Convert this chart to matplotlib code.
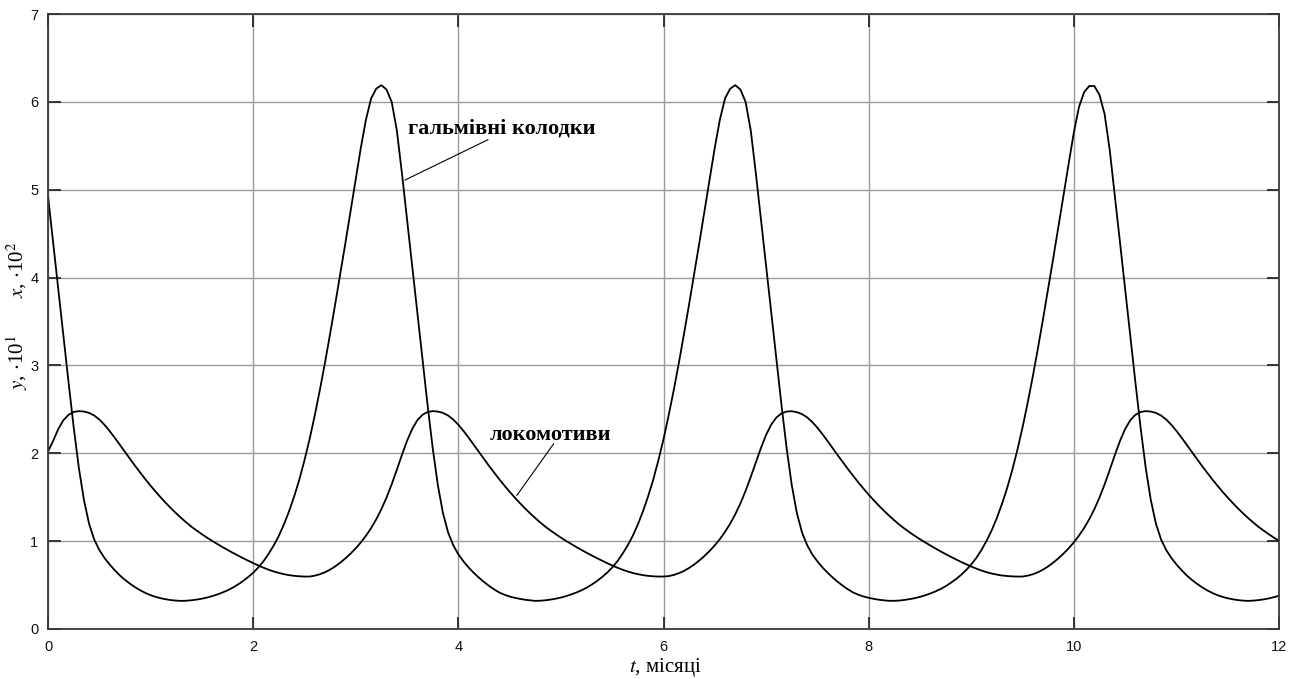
import numpy as np
import matplotlib
matplotlib.use("Agg")
import matplotlib.pyplot as plt

plt.rcParams['font.family'] = ['Liberation Serif', 'DejaVu Serif']
plt.rcParams['mathtext.fontset'] = 'stix'

# time axis, months (step 0.05)
t = np.linspace(0, 12, 241)

# x - brake shoes (гальмівні колодки), units of 10^2
brake_shoes = [
    4.93, 4.40, 3.87, 3.33, 2.81, 2.30, 1.84, 1.47, 1.20, 1.02,
    0.90, 0.81, 0.735, 0.67, 0.61, 0.56, 0.515, 0.475, 0.44, 0.41,
    0.385, 0.365, 0.35, 0.338, 0.329, 0.323, 0.320, 0.322, 0.327, 0.335,
    0.345, 0.358, 0.374, 0.393, 0.415, 0.44, 0.47, 0.505, 0.545, 0.59,
    0.64, 0.70, 0.77, 0.855, 0.95, 1.06, 1.19, 1.34, 1.51, 1.70,
    1.92, 2.16, 2.43, 2.72, 3.03, 3.36, 3.70, 4.05, 4.40, 4.76,
    5.12, 5.48, 5.80, 6.04, 6.15, 6.19, 6.14, 6.00, 5.68, 5.19,
    4.66, 4.13, 3.60, 3.07, 2.55, 2.06, 1.64, 1.32, 1.10, 0.955,
    0.85, 0.77, 0.70, 0.64, 0.585, 0.535, 0.49, 0.45, 0.415, 0.39,
    0.37, 0.355, 0.343, 0.333, 0.326, 0.320, 0.322, 0.327, 0.335, 0.345,
    0.358, 0.374, 0.393, 0.415, 0.44, 0.47, 0.505, 0.545, 0.59, 0.64,
    0.70, 0.77, 0.855, 0.95, 1.06, 1.19, 1.34, 1.51, 1.70, 1.92,
    2.16, 2.43, 2.72, 3.03, 3.36, 3.70, 4.05, 4.40, 4.76, 5.12,
    5.48, 5.80, 6.04, 6.15, 6.19, 6.14, 6.00, 5.68, 5.19, 4.66,
    4.13, 3.60, 3.07, 2.55, 2.06, 1.64, 1.32, 1.10, 0.955, 0.85,
    0.77, 0.70, 0.64, 0.585, 0.535, 0.49, 0.45, 0.415, 0.39, 0.37,
    0.355, 0.343, 0.333, 0.326, 0.321, 0.321, 0.324, 0.331, 0.340, 0.351,
    0.366, 0.383, 0.404, 0.427, 0.455, 0.487, 0.525, 0.567, 0.615, 0.67,
    0.735, 0.81, 0.90, 1.005, 1.125, 1.265, 1.425, 1.605, 1.81, 2.04,
    2.295, 2.575, 2.875, 3.195, 3.53, 3.875, 4.225, 4.58, 4.94, 5.30,
    5.65, 5.94, 6.11, 6.18, 6.18, 6.08, 5.86, 5.45, 4.93, 4.40,
    3.87, 3.33, 2.81, 2.30, 1.84, 1.47, 1.20, 1.02, 0.90, 0.81,
    0.735, 0.67, 0.61, 0.56, 0.515, 0.475, 0.44, 0.41, 0.385, 0.365,
    0.35, 0.338, 0.329, 0.323, 0.320, 0.323, 0.329, 0.337, 0.348, 0.362,
    0.378,
]

# y - locomotives (локомотиви), units of 10^1
locomotives = [
    2.02, 2.141, 2.276, 2.376, 2.438, 2.470, 2.48, 2.475, 2.46, 2.43,
    2.385, 2.325, 2.255, 2.178, 2.097, 2.015, 1.934, 1.855, 1.778, 1.703,
    1.631, 1.562, 1.496, 1.433, 1.373, 1.316, 1.262, 1.211, 1.163, 1.120,
    1.079, 1.040, 1.003, 0.968, 0.933, 0.900, 0.868, 0.837, 0.807, 0.778,
    0.750, 0.723, 0.698, 0.675, 0.655, 0.638, 0.624, 0.613, 0.605, 0.600,
    0.597, 0.597, 0.607, 0.623, 0.646, 0.676, 0.713, 0.756, 0.805, 0.859,
    0.919, 0.986, 1.062, 1.149, 1.249, 1.364, 1.496, 1.646, 1.811, 1.981,
    2.141, 2.276, 2.376, 2.438, 2.470, 2.48, 2.475, 2.46, 2.43, 2.385,
    2.325, 2.255, 2.178, 2.097, 2.015, 1.934, 1.855, 1.778, 1.703, 1.631,
    1.562, 1.496, 1.433, 1.373, 1.316, 1.262, 1.211, 1.163, 1.120, 1.079,
    1.040, 1.003, 0.968, 0.933, 0.900, 0.868, 0.837, 0.807, 0.778, 0.750,
    0.723, 0.698, 0.675, 0.655, 0.638, 0.624, 0.613, 0.605, 0.600, 0.597,
    0.597, 0.602, 0.615, 0.635, 0.661, 0.695, 0.735, 0.781, 0.832, 0.889,
    0.953, 1.024, 1.106, 1.199, 1.307, 1.430, 1.571, 1.729, 1.896, 2.061,
    2.209, 2.326, 2.407, 2.454, 2.475, 2.479, 2.468, 2.446, 2.409, 2.356,
    2.291, 2.217, 2.138, 2.056, 1.975, 1.895, 1.817, 1.741, 1.667, 1.597,
    1.529, 1.465, 1.403, 1.345, 1.289, 1.237, 1.187, 1.142, 1.100, 1.060,
    1.022, 0.986, 0.951, 0.917, 0.884, 0.853, 0.822, 0.793, 0.764, 0.737,
    0.711, 0.687, 0.665, 0.647, 0.631, 0.619, 0.609, 0.603, 0.599, 0.597,
    0.597, 0.607, 0.623, 0.646, 0.676, 0.713, 0.756, 0.805, 0.859, 0.919,
    0.986, 1.062, 1.149, 1.249, 1.364, 1.496, 1.646, 1.811, 1.981, 2.141,
    2.276, 2.376, 2.438, 2.470, 2.48, 2.475, 2.46, 2.43, 2.385, 2.325,
    2.255, 2.178, 2.097, 2.015, 1.934, 1.855, 1.778, 1.703, 1.631, 1.562,
    1.496, 1.433, 1.373, 1.316, 1.262, 1.211, 1.163, 1.120, 1.079, 1.040,
    1.003,
]

x_ticks = [0, 2, 4, 6, 8, 10, 12]
y_ticks = [0, 1, 2, 3, 4, 5, 6, 7]

W, H = 1298, 679
fig = plt.figure(figsize=(W / 100, H / 100), dpi=100)
ax = fig.add_axes([48 / W, 1 - 629 / H, (1279 - 48) / W, (629 - 14) / H])

ax.plot(t, brake_shoes, color='black', lw=1.3, solid_joinstyle='round')
ax.plot(t, locomotives, color='black', lw=1.3, solid_joinstyle='round')

ax.set_xlim(0, 12)
ax.set_ylim(0, 7)
ax.set_xticks(x_ticks)
ax.set_yticks(y_ticks)
ax.grid(True, color='#9a9a9a', lw=1.0)
ax.set_axisbelow(True)
for s in ax.spines.values():
    s.set_color('#3a3a3a')
    s.set_linewidth(1.3)
ax.tick_params(direction='in', length=9, width=1.3, color='#2a2a2a',
               top=True, right=True, labelsize=10.5, labelcolor='#111111')
ax.tick_params(axis='x', pad=8)
ax.tick_params(axis='y', pad=7)
for lab in ax.get_xticklabels() + ax.get_yticklabels():
    lab.set_fontfamily('Liberation Sans')

# curve labels
ax.text(3.51, 5.645, 'гальмівні колодки', fontsize=16, fontweight='bold',
        va='baseline', ha='left')
ax.annotate('', xy=(3.48, 5.11), xytext=(4.29, 5.57),
            arrowprops=dict(arrowstyle='-', lw=0.8, color='black',
                            shrinkA=0, shrinkB=0))
ax.text(4.31, 2.15, 'локомотиви', fontsize=16, fontweight='bold',
        va='baseline', ha='left')
ax.annotate('', xy=(4.57, 1.52), xytext=(4.93, 2.11),
            arrowprops=dict(arrowstyle='-', lw=0.8, color='black',
                            shrinkA=0, shrinkB=0))

# axis titles
fig.text(17 / W, 1 - 270 / H, r'$x$, $\cdot$10$^2$', rotation=90,
         ha='center', va='center', fontsize=15)
fig.text(17 / W, 1 - 362 / H, r'$y$, $\cdot$10$^1$', rotation=90,
         ha='center', va='center', fontsize=15)
fig.text(665 / W, 1 - 672 / H, r'$t$, місяці', ha='center', va='baseline',
         fontsize=15)

fig.savefig('out.png', dpi=100)
